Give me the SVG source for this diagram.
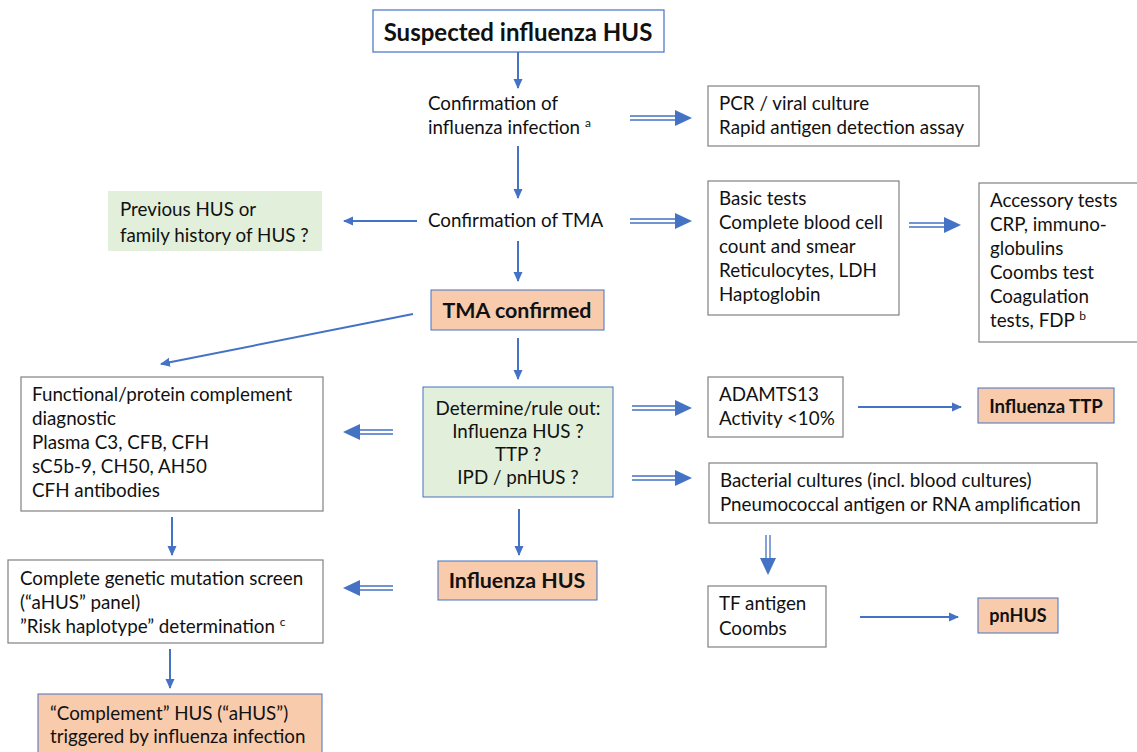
<svg xmlns="http://www.w3.org/2000/svg" width="1137" height="752" viewBox="0 0 1137 752">
<defs>
<marker id="ah" markerWidth="10" markerHeight="10" refX="9" refY="5" orient="auto" markerUnits="userSpaceOnUse">
<path d="M0,0.5 L10,5 L0,9.5 Z" fill="#4472c4"/>
</marker>
</defs>
<style>
text{font-family:Lato,"Open Sans","Liberation Sans",sans-serif;font-size:18.8px;fill:#111}
.b{font-weight:bold;font-size:21.4px}
.big{font-weight:bold;font-size:24px}
.c{text-anchor:middle}
.sup{font-size:12px}
.box{fill:#fff;stroke:#808080;stroke-width:1.2}
.org{fill:#f8cbad;stroke:#4472c4;stroke-width:1}
.grn{fill:#e2efda;stroke:none}
.grnb{fill:#e2efda;stroke:#4472c4;stroke-width:1}
.top{fill:#fff;stroke:#4472c4;stroke-width:1.2}
.a{stroke:#4472c4;stroke-width:2;fill:none;marker-end:url(#ah)}
.d{stroke:#4472c4;stroke-width:1.3;fill:none}
.h{fill:#4472c4}
</style>
<g id="n-suspected"><rect class="top" x="373" y="10" width="291" height="42"/><text class="big c" x="518" y="41">Suspected influenza HUS</text></g>
<g id="n-confinf"><text x="428" y="110">Confirmation of</text><text x="428" y="134">influenza infection <tspan class="sup" dy="-7">a</tspan></text></g>
<g id="n-pcr"><rect class="box" x="708" y="86" width="271" height="60"/><text x="719" y="110">PCR / viral culture</text><text x="719" y="134">Rapid antigen detection assay</text></g>
<g id="n-prev"><rect class="grn" x="108" y="191" width="214" height="60"/><text x="120" y="216">Previous HUS or</text><text x="120" y="242">family history of HUS ?</text></g>
<g id="n-conftma"><text x="428" y="227">Confirmation of TMA</text></g>
<g id="n-basic"><rect class="box" x="708" y="181" width="191" height="134"/><text x="719" y="205">Basic tests</text><text x="719" y="229">Complete blood cell</text><text x="719" y="253">count and smear</text><text x="719" y="277">Reticulocytes, LDH</text><text x="719" y="301">Haptoglobin</text></g>
<g id="n-access"><rect class="box" x="979" y="183" width="165" height="159"/><text x="990" y="207">Accessory tests</text><text x="990" y="231">CRP, immuno-</text><text x="990" y="255">globulins</text><text x="990" y="279">Coombs test</text><text x="990" y="303">Coagulation</text><text x="990" y="327">tests, FDP <tspan class="sup" dy="-7">b</tspan></text></g>
<g id="n-tma"><rect class="org" x="431" y="290" width="173" height="40"/><text class="b c" x="517" y="318">TMA confirmed</text></g>
<g id="n-func"><rect class="box" x="21" y="377" width="302" height="134"/><text x="32" y="401">Functional/protein complement</text><text x="32" y="425">diagnostic</text><text x="32" y="449">Plasma C3, CFB, CFH</text><text x="32" y="473">sC5b-9, CH50, AH50</text><text x="32" y="497">CFH antibodies</text></g>
<g id="n-determine"><rect class="grnb" x="423" y="387" width="190" height="110"/><text class="c" x="518" y="415">Determine/rule out:</text><text class="c" x="518" y="438">Influenza HUS ?</text><text class="c" x="518" y="461">TTP ?</text><text class="c" x="518" y="484">IPD / pnHUS ?</text></g>
<g id="n-adamts"><rect class="box" x="708" y="377" width="135" height="60"/><text x="719" y="401">ADAMTS13</text><text x="719" y="425">Activity &lt;10%</text></g>
<g id="n-ttp"><rect class="org" x="978" y="388" width="136" height="35"/><text class="b c" x="1046" y="413" style="font-size:18.6px">Influenza TTP</text></g>
<g id="n-bact"><rect class="box" x="709" y="463" width="388" height="60"/><text x="720" y="487">Bacterial cultures (incl. blood cultures)</text><text x="720" y="511">Pneumococcal antigen or RNA amplification</text></g>
<g id="n-genetic"><rect class="box" x="8" y="560" width="315" height="83"/><text x="20" y="585">Complete genetic mutation screen</text><text x="20" y="609">(“aHUS” panel)</text><text x="20" y="633">”Risk haplotype” determination <tspan class="sup" dy="-7">c</tspan></text></g>
<g id="n-infhus"><rect class="org" x="438" y="561" width="159" height="39"/><text class="b c" x="517" y="588">Influenza HUS</text></g>
<g id="n-tf"><rect class="box" x="708" y="586" width="118" height="61"/><text x="719" y="610">TF antigen</text><text x="719" y="635">Coombs</text></g>
<g id="n-pnhus"><rect class="org" x="978" y="598" width="80" height="35"/><text class="b c" x="1018" y="622" style="font-size:18px">pnHUS</text></g>
<g id="n-complement"><rect class="org" x="38" y="694" width="284" height="70"/><text x="50" y="720">“Complement” HUS (“aHUS”)</text><text x="50" y="743">triggered by influenza infection</text></g>
<g id="connectors">
<line class="a" x1="518" y1="52" x2="518" y2="88"/>
<line class="a" x1="518" y1="146" x2="518" y2="198"/>
<line class="a" x1="417" y1="221" x2="344" y2="221"/>
<line class="a" x1="518" y1="241" x2="518" y2="281"/>
<line class="a" x1="413" y1="314" x2="161" y2="364"/>
<line class="a" x1="518" y1="338" x2="518" y2="379"/>
<line class="a" x1="519" y1="509" x2="519" y2="555"/>
<line class="a" x1="172" y1="517" x2="172" y2="555"/>
<line class="a" x1="170" y1="649" x2="170" y2="688"/>
<line class="a" x1="858" y1="407" x2="961" y2="407"/>
<line class="a" x1="860" y1="617" x2="958" y2="617"/>
<g id="d1"><path class="d" d="M630,116 H677 M630,120 H677"/><path class="h" d="M675,110 L692,118 L675,126 Z"/></g>
<g id="d2"><path class="d" d="M630,219 H677 M630,223 H677"/><path class="h" d="M675,213 L692,221 L675,229 Z"/></g>
<g id="d3"><path class="d" d="M909,223 H946 M909,227 H946"/><path class="h" d="M944,217 L961,225 L944,233 Z"/></g>
<g id="d4"><path class="d" d="M632,406 H677 M632,410 H677"/><path class="h" d="M675,400 L692,408 L675,416 Z"/></g>
<g id="d5"><path class="d" d="M632,476 H677 M632,480 H677"/><path class="h" d="M675,470 L692,478 L675,486 Z"/></g>
<g id="d6"><path class="d" d="M393,430 H358 M393,434 H358"/><path class="h" d="M360,424 L343,432 L360,440 Z"/></g>
<g id="d7"><path class="d" d="M393,586 H358 M393,590 H358"/><path class="h" d="M360,580 L343,588 L360,596 Z"/></g>
<g id="d8"><path class="d" d="M766,535 V560 M770,535 V560"/><path class="h" d="M760,558 L768,575 L776,558 Z"/></g>
</g>
</svg>
